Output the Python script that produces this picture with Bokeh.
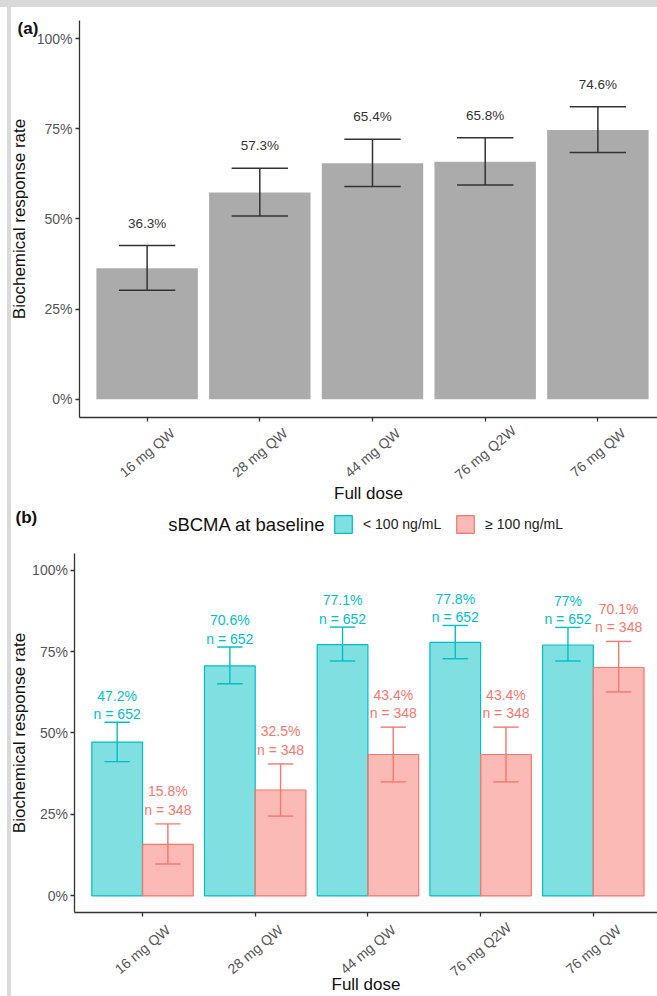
from bokeh.plotting import figure
from bokeh.models import (ColumnDataSource, FixedTicker, PrintfTickFormatter,
                          CustomJSTickFormatter, Legend, LegendItem, Div)
from bokeh.layouts import column, row
from bokeh.core.properties import value
from bokeh.embed import file_html
from bokeh.resources import INLINE

FONT = "Liberation Sans"
TEAL = "#00BFC4"
SALMON = "#F8766D"
GREY_BAR = "#ABABAB"
INK = "#333333"
FRAME_GREY = "#D9D9D9"

# ---- data -------------------------------------------------------------
doses = ["16 mg QW", "28 mg QW", "44 mg QW", "76 mg Q2W", "76 mg QW"]
y_ticks = [0, 25, 50, 75, 100]

# (a) all patients: response rate (%) with 95% CI
rate_all = [36.3, 57.3, 65.4, 65.8, 74.6]
lo_all = [30.2, 50.8, 59.0, 59.4, 68.4]
hi_all = [42.6, 64.0, 72.1, 72.5, 81.1]

# (b) split by baseline sBCMA
group_labels = ["< 100 ng/mL", "\u2265 100 ng/mL"]
legend_title = "sBCMA at baseline"

rate_low = [47.2, 70.6, 77.1, 77.8, 77.0]
lo_low = [41.2, 65.1, 72.1, 72.8, 72.1]
hi_low = [53.3, 76.4, 82.5, 83.0, 82.4]
n_low = [652, 652, 652, 652, 652]

rate_high = [15.8, 32.5, 43.4, 43.4, 70.1]
lo_high = [9.8, 24.5, 35.0, 35.0, 62.6]
hi_high = [22.1, 40.5, 51.8, 51.8, 78.1]
n_high = [348, 348, 348, 348, 348]

x_pos = list(range(1, len(doses) + 1))

# value axis spans -5..105 (5% padding round 0..100); categories sit at 1..5
Y_LO, Y_HI = -5, 105
X_LO = 0.4


def pct(v):
    return f"{v:g}%"


def base_figure(height, x_range, y_range, ytitle_standoff, xtitle_standoff):
    # the frame fills the whole canvas; axes are pinned inside it so that
    # the tags, tick names and legend can share the same drawing area
    p = figure(width=646, height=height, x_range=x_range, y_range=y_range,
               output_backend="svg", toolbar_location=None, min_border=0)
    p.grid.visible = False
    p.outline_line_color = None
    p.background_fill_color = "white"
    p.border_fill_color = "white"

    yax = p.yaxis[0]
    yax.ticker = FixedTicker(ticks=y_ticks)
    yax.formatter = PrintfTickFormatter(format="%d%%")
    yax.axis_label = "Biochemical response rate"
    yax.fixed_location = X_LO
    yax.bounds = (Y_LO, Y_HI)

    xax = p.xaxis[0]
    xax.ticker = FixedTicker(ticks=x_pos)
    xax.formatter = CustomJSTickFormatter(code="return ''")
    xax.axis_label = "Full dose"
    xax.fixed_location = Y_LO
    xax.bounds = (X_LO, x_range[1])

    for ax in (xax, yax):
        ax.axis_line_color = INK
        ax.axis_line_width = 1.3
        ax.major_tick_line_color = INK
        ax.major_tick_line_width = 1.3
        ax.major_tick_in = 0
        ax.major_tick_out = 4
        ax.minor_tick_line_color = None
        ax.axis_label_text_font = FONT
        ax.axis_label_text_font_size = "17px"
        ax.axis_label_text_font_style = "normal"
        ax.axis_label_text_color = "#111111"
        ax.major_label_text_font = FONT
        ax.major_label_text_font_size = "14px"
        ax.major_label_text_color = "#555555"
    yax.major_label_standoff = 3
    yax.axis_label_standoff = ytitle_standoff
    xax.major_label_text_font_size = "0px"
    xax.major_label_standoff = 0
    xax.axis_label_standoff = xtitle_standoff
    return p


def dose_labels(p, y):
    p.text(x=x_pos, y=[y] * len(doses), text=doses, angle=40, angle_units="deg",
           text_align="center", text_baseline="middle",
           text_font=value(FONT), text_font_size="14px", text_color="#555555")


def error_bars(p, xs, lo, hi, half, color, width):
    src = ColumnDataSource(dict(
        x=xs, lo=lo, hi=hi,
        xl=[x - half for x in xs], xr=[x + half for x in xs]))
    p.segment(x0="x", y0="lo", x1="x", y1="hi", source=src, line_color=color, line_width=width)
    p.segment(x0="xl", y0="hi", x1="xr", y1="hi", source=src, line_color=color, line_width=width)
    p.segment(x0="xl", y0="lo", x1="xr", y1="lo", source=src, line_color=color, line_width=width)


def tag(p, x, y, text):
    p.text(x=[x], y=[y], text=[text], text_align="left", text_baseline="middle",
           text_font=value(FONT), text_font_size="17px", text_font_style="bold",
           text_color="#111111")


# ---- panel (a) ---------------------------------------------------------
p1 = base_figure(498, (-0.2034, 5.529), (-29.48, 108.60), 5, 62)
p1.vbar(x=x_pos, top=rate_all, bottom=0, width=0.9, fill_color=GREY_BAR, line_color=None)
error_bars(p1, x_pos, lo_all, hi_all, 0.25, INK, 1.5)
p1.text(x=x_pos, y=[h + 6.2 for h in hi_all], text=[pct(v) for v in rate_all],
        text_align="center", text_baseline="middle",
        text_font=value(FONT), text_font_size="13.5px", text_color=INK)
dose_labels(p1, -14.8)
tag(p1, -0.15, 102.8, "(a)")

# ---- panel (b) ---------------------------------------------------------
p2 = base_figure(491, (-0.1626, 5.5696), (-30.87, 119.82), 0, 58)
x_low = [x - 0.225 for x in x_pos]
x_high = [x + 0.225 for x in x_pos]
r_low = p2.vbar(x=x_low, top=rate_low, bottom=0, width=0.45,
                fill_color=TEAL, fill_alpha=0.5, line_color=TEAL, line_width=1.2)
r_high = p2.vbar(x=x_high, top=rate_high, bottom=0, width=0.45,
                 fill_color=SALMON, fill_alpha=0.5, line_color=SALMON, line_width=1.2)
error_bars(p2, x_low, lo_low, hi_low, 0.1125, TEAL, 1.4)
error_bars(p2, x_high, lo_high, hi_high, 0.1125, SALMON, 1.4)

for xs, rates, his, ns, color, off in ((x_low, rate_low, hi_low, n_low, TEAL, 2.6),
                                       (x_high, rate_high, hi_high, n_high, SALMON, 4.4)):
    p2.text(x=xs, y=[h + off + 5.6 for h in his], text=[pct(v) for v in rates],
            text_align="center", text_baseline="middle",
            text_font=value(FONT), text_font_size="14px", text_color=color)
    p2.text(x=xs, y=[h + off for h in his], text=[f"n = {n}" for n in ns],
            text_align="center", text_baseline="middle",
            text_font=value(FONT), text_font_size="14px", text_color=color)

dose_labels(p2, -16.45)
tag(p2, -0.127, 116.1, "(b)")

legend = Legend(items=[LegendItem(label=group_labels[0], renderers=[r_low]),
                       LegendItem(label=group_labels[1], renderers=[r_high])],
                location=(321, 461), orientation="horizontal",
                glyph_width=22, glyph_height=22, label_standoff=9, spacing=13,
                padding=0, margin=0, border_line_color=None, background_fill_alpha=0,
                label_text_font=FONT, label_text_font_size="14px", label_text_color="#222222")
p2.add_layout(legend)
p2.text(x=[2.6236], y=[114.0], text=[legend_title], text_align="right", text_baseline="middle",
        text_font=value(FONT), text_font_size="18.5px", text_color="#111111")

# ---- page: grey top band and left rule around the two panels ----------
band = Div(width=657, height=7, margin=0, styles={"background-color": FRAME_GREY})
pad = Div(width=7, height=989, margin=0)
rule = Div(width=4, height=989, margin=0, styles={"background-color": FRAME_GREY})
page = column(band, row(pad, rule, column(p1, p2, spacing=0), spacing=0), spacing=0)

open("out.html", "w").write(file_html(page, INLINE))
